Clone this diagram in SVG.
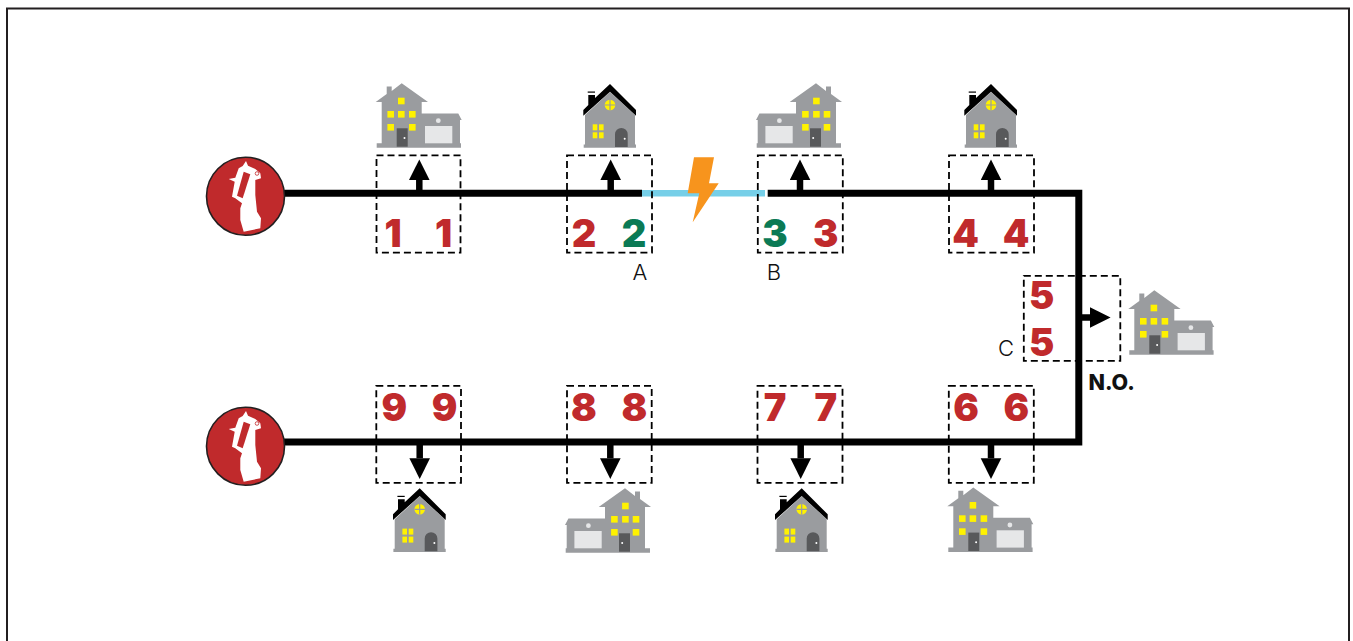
<svg xmlns="http://www.w3.org/2000/svg" xmlns:xlink="http://www.w3.org/1999/xlink" width="1353" height="641" viewBox="0 0 1353 641">
<style>
.bg{fill:#fff}
.frame{fill:none;stroke:#231f20;stroke-width:2}
.feeder{fill:none;stroke:#000;stroke-width:7}
.stub{fill:none;stroke:#000;stroke-width:6.5}
.fault{fill:none;stroke:#76cfe8;stroke-width:6.5}
.box{fill:none;stroke:#000;stroke-width:1.8;stroke-dasharray:7 4}
.dg{font-family:Inter,"DejaVu Sans",sans-serif;font-weight:900;font-size:38px;text-anchor:middle}
.r{fill:#c02a2c}.g{fill:#0b7a55}
.lb{font-family:Inter,"DejaVu Sans",sans-serif;font-size:22px;font-weight:300;text-anchor:middle;fill:#111}
.no{font-family:Inter,"DejaVu Sans",sans-serif;font-size:21.5px;font-weight:800;fill:#111}
.w{fill:#9a9c9f}.y{fill:#fff200}.d{fill:#58595b}.gd{fill:#e6e7e8}.k{fill:#000}
.wh{fill:#fff}.rd{fill:#c02a2c}
</style>
<defs>
<marker id="head" markerUnits="userSpaceOnUse" markerWidth="22" markerHeight="22" refX="0" refY="10.5" orient="auto">
<path d="M0 0.2L20.6 10.5L0 20.8Z" fill="#000"/>
</marker>
<g id="bigHouse">
<path class="w" d="M10.7 2.5H15.7V7L25.7-.7L52 18H45.7V29.5H82.3L85.7 36H84V59.3H85V63.7H.7V59.3H5.7V18H-.3L10.7 10Z"/>
<rect class="gd" x="49" y="42" width="27.3" height="17.3"/>
<circle class="gd" cx="62.3" cy="36.7" r="2.4"/>
<rect class="d" x="20.7" y="44.3" width="11" height="18.4"/>
<circle class="wh" cx="28.5" cy="54" r="1"/>
<rect class="y" x="22" y="13.7" width="6.6" height="6.6"/>
<rect class="y" x="11.4" y="27" width="6.6" height="6.6"/>
<rect class="y" x="22" y="27" width="6.6" height="6.6"/>
<rect class="y" x="33" y="27" width="6.6" height="6.6"/>
<rect class="y" x="11.4" y="40" width="6.6" height="6.6"/>
<rect class="y" x="33" y="40" width="6.6" height="6.6"/>
</g>
<g id="smallHouse">
<path class="w" d="M2 31L27 8L52 31V60.5H53V63.7H.7V60.5H2Z"/>
<path class="k" d="M27 0L53 26V31.7L27 7.7L.3 31.7V26L5.3 21V11H12V14Z"/>
<rect class="k" x="4.7" y="7.5" width="7.3" height="1.2"/>
<circle class="y" cx="27" cy="21" r="5.3"/>
<path d="M27 15.7V26.3M21.7 21H32.3" stroke="#9a9c9f" stroke-width="1.2"/>
<rect class="y" x="9.7" y="40.3" width="4.6" height="6"/>
<rect class="y" x="16" y="40.3" width="4.6" height="6"/>
<rect class="y" x="9.7" y="48.3" width="4.6" height="6"/>
<rect class="y" x="16" y="48.3" width="4.6" height="6"/>
<path class="d" d="M32 63V50.3A6.35 6.35 0 0 1 44.7 50.3V63Z"/>
<circle class="wh" cx="41.7" cy="54.7" r="1"/>
</g>
<g id="recloser">
<circle cx="245.5" cy="196.3" r="39" fill="#c02a2c" stroke="#231f20" stroke-width="1.6"/>
<path class="wh" d="M246 161L248 165.7L255.3 169L260.3 173.3L261 178.3L255.3 180L255.3 195L257 211.7L261 218.3L260.3 228.3L243.7 231.7L240.3 220L240.3 208.3L242 203.3L235.3 198.3L232 196.7L234.7 181.7L228.7 179L235.3 177.7L238.7 168.3L242.7 166Z"/>
<path class="rd" d="M243.7 171.7L250.3 174.3L242.7 198.3L237 195.7Z"/>
<circle cx="257" cy="173.5" r="1.8" fill="none" stroke="#c02a2c" stroke-width=".8"/>
</g>
</defs>
<rect class="bg" width="1353" height="641"/>
<path class="frame" d="M7 641V8.5H1349V641"/>
<g id="connectors">
<path class="feeder" d="M284 193.3H642"/>
<path class="fault" d="M642 193.3H765"/>
<path class="feeder" d="M767.7 193.3H1078.8V442H284"/>
<path class="stub" marker-end="url(#head)" d="M419.3 190V180"/>
<path class="stub" marker-end="url(#head)" d="M610.7 190V180"/>
<path class="stub" marker-end="url(#head)" d="M800 190V180"/>
<path class="stub" marker-end="url(#head)" d="M991 190V180"/>
<path class="stub" marker-end="url(#head)" d="M1082 317.5H1090"/>
<path class="stub" marker-end="url(#head)" d="M419.7 445V458.3"/>
<path class="stub" marker-end="url(#head)" d="M610.3 445V458.3"/>
<path class="stub" marker-end="url(#head)" d="M800.7 445V458.3"/>
<path class="stub" marker-end="url(#head)" d="M991 445V458.3"/>
</g>
<g id="source-top"><use href="#recloser"/></g>
<g id="source-bottom"><use href="#recloser" y="250"/></g>
<g id="fault"><path fill="#f7941d" d="M694 157.3H714L709 183.3H718.7L692.7 222.3L699.3 193.3H687.7Z"/></g>
<g id="section-1"><rect class="box" x="376.5" y="155.3" width="84" height="97.4"/><text class="dg r" x="393" y="247.3">1</text><text class="dg r" x="443.5" y="247.3">1</text></g>
<g id="section-2"><rect class="box" x="567" y="155.3" width="85" height="97.4"/><text class="dg r" x="584" y="247.3">2</text><text class="dg g" x="634" y="247.3">2</text></g>
<g id="section-3"><rect class="box" x="757.8" y="155.3" width="85" height="97.4"/><text class="dg g" x="775" y="247.3">3</text><text class="dg r" x="825.7" y="247.3">3</text></g>
<g id="section-4"><rect class="box" x="949" y="155.3" width="85" height="97.4"/><text class="dg r" x="965.5" y="247.3">4</text><text class="dg r" x="1016" y="247.3">4</text></g>
<g id="section-5"><rect class="box" x="1023.8" y="275.8" width="96.5" height="85"/><text class="dg r" x="1041.7" y="309">5</text><text class="dg r" x="1041.7" y="355.7">5</text></g>
<g id="section-6"><rect class="box" x="948.8" y="385.8" width="85" height="97"/><text class="dg r" x="966" y="421">6</text><text class="dg r" x="1016.3" y="421">6</text></g>
<g id="section-7"><rect class="box" x="757.5" y="385.8" width="85" height="97"/><text class="dg r" x="775" y="421">7</text><text class="dg r" x="825.7" y="421">7</text></g>
<g id="section-8"><rect class="box" x="567" y="385.8" width="84.7" height="97"/><text class="dg r" x="584" y="421">8</text><text class="dg r" x="634.3" y="421">8</text></g>
<g id="section-9"><rect class="box" x="376.3" y="385.8" width="84.7" height="97"/><text class="dg r" x="394.3" y="421">9</text><text class="dg r" x="444.7" y="421">9</text></g>
<g id="house-1"><use href="#bigHouse" transform="translate(376,84)"/></g>
<g id="house-2"><use href="#smallHouse" transform="translate(583,84)"/></g>
<g id="house-3"><use href="#bigHouse" transform="translate(841.7,84) scale(-1,1)"/></g>
<g id="house-4"><use href="#smallHouse" transform="translate(964,84)"/></g>
<g id="house-5"><use href="#bigHouse" transform="translate(1128.6,291)"/></g>
<g id="house-6"><use href="#bigHouse" transform="translate(947.6,488.3)"/></g>
<g id="house-7"><use href="#smallHouse" transform="translate(774.7,488.3)"/></g>
<g id="house-8"><use href="#bigHouse" transform="translate(650.7,489) scale(-1,1)"/></g>
<g id="house-9"><use href="#smallHouse" transform="translate(392.7,488.3)"/></g>
<g id="labels">
<text class="lb" x="640" y="279.5">A</text>
<text class="lb" x="774" y="279.5">B</text>
<text class="lb" x="1006" y="355.5">C</text>
<text class="no" x="1088.5" y="389.5">N.O.</text>
</g>
</svg>
